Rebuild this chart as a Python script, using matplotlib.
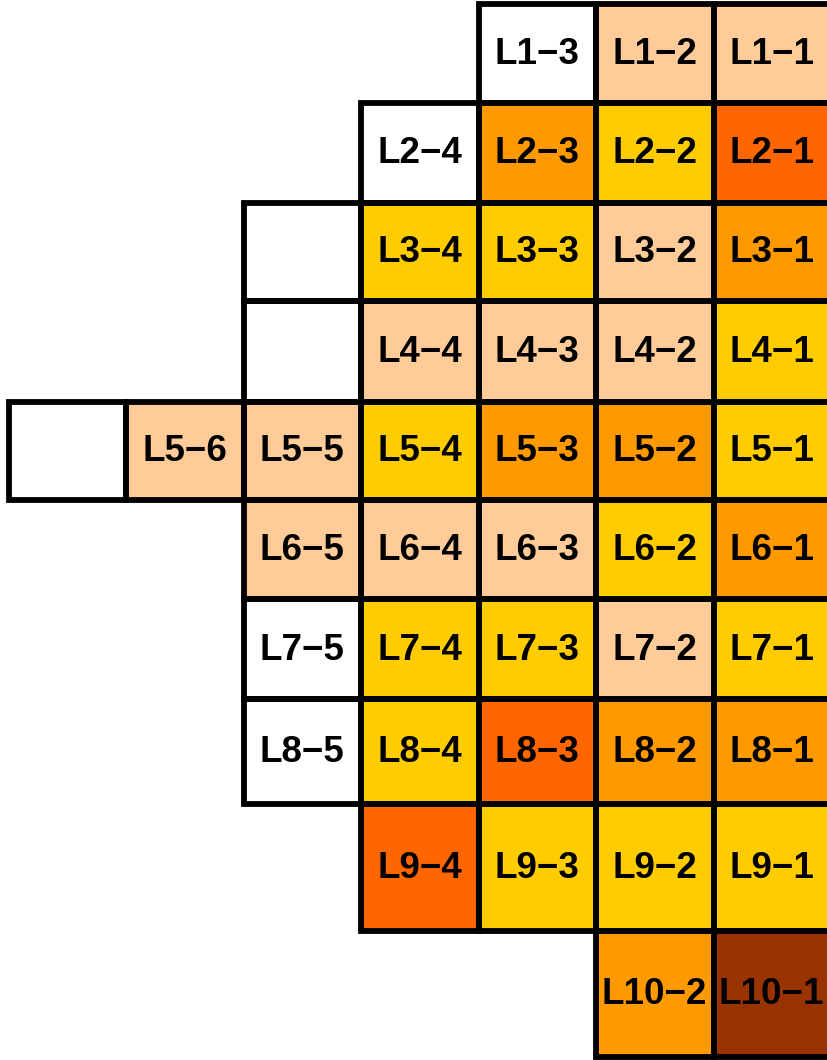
import matplotlib
matplotlib.use('Agg')
import matplotlib.pyplot as plt
from matplotlib.patches import Rectangle

# cell labels per row, listed from the rightmost column outward ("" = empty box)
row_labels = [
    ["L1-1", "L1-2", "L1-3"],
    ["L2-1", "L2-2", "L2-3", "L2-4"],
    ["L3-1", "L3-2", "L3-3", "L3-4", ""],
    ["L4-1", "L4-2", "L4-3", "L4-4", ""],
    ["L5-1", "L5-2", "L5-3", "L5-4", "L5-5", "L5-6", ""],
    ["L6-1", "L6-2", "L6-3", "L6-4", "L6-5"],
    ["L7-1", "L7-2", "L7-3", "L7-4", "L7-5"],
    ["L8-1", "L8-2", "L8-3", "L8-4", "L8-5"],
    ["L9-1", "L9-2", "L9-3", "L9-4"],
    ["L10-1", "L10-2"],
]

# colour class of each cell, same order as row_labels
row_levels = [
    ["peach", "peach", "none"],
    ["red", "gold", "orange", "none"],
    ["orange", "peach", "gold", "gold", "none"],
    ["gold", "peach", "peach", "peach", "none"],
    ["gold", "orange", "orange", "gold", "peach", "peach", "none"],
    ["orange", "gold", "peach", "peach", "peach"],
    ["gold", "peach", "gold", "gold", "none"],
    ["orange", "orange", "red", "gold", "none"],
    ["gold", "gold", "gold", "red"],
    ["brown", "orange"],
]

palette = {
    "none": "#FFFFFF",
    "peach": "#FFCC99",
    "gold": "#FFCC00",
    "orange": "#FF9900",
    "red": "#FF6600",
    "brown": "#993300",
}

# layout (pixels of the 827x1060 canvas)
W, H = 827, 1060
right_edge = 831
col_w = 117.5
top = 4
row_h = [98.5, 100.5, 98, 100.5, 98.5, 99, 100, 105, 126.5, 126]

fig = plt.figure(figsize=(W / 100, H / 100), dpi=100)
ax = fig.add_axes([0, 0, 1, 1])
ax.set_xlim(0, W)
ax.set_ylim(H, 0)
ax.axis('off')

y = top
for labels, levels, h in zip(row_labels, row_levels, row_h):
    for c, (lab, lev) in enumerate(zip(labels, levels)):
        x = right_edge - (c + 1) * col_w
        ax.add_patch(Rectangle((x, y), col_w, h, facecolor=palette[lev],
                               edgecolor='none', zorder=1))
        ax.add_patch(Rectangle((x, y), col_w, h, facecolor='none',
                               edgecolor='black', lw=4.2, zorder=2,
                               clip_on=False))
        if lab:
            # keep the label inside the visible canvas for the clipped right column
            cx = min(x + col_w / 2, W - 56) if len(lab) > 4 else x + col_w / 2
            ax.text(cx, y + h / 2 + 1, lab.replace("-", "\u2212"),
                    ha='center', va='center', fontsize=26.5, fontweight='bold',
                    family='Liberation Sans', zorder=3)
    y += h

fig.savefig("out.png", dpi=100)
plt.close(fig)
